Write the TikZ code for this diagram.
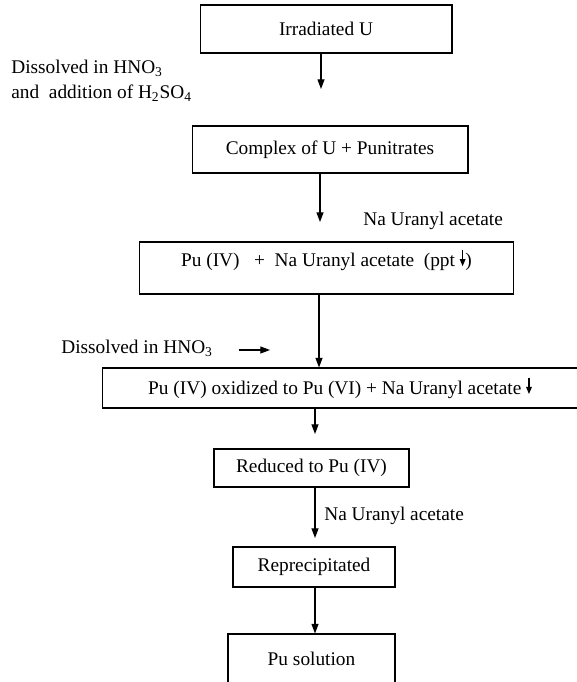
\documentclass[tikz,border=0pt]{standalone}
\usepackage{fontspec}
\setmainfont{Liberation Serif}
\usetikzlibrary{arrows.meta}
\tikzset{
  stage/.style={draw=black, line width=0.6pt, inner sep=0pt, font=\fontsize{11}{14}\selectfont},
  flow/.style={draw=black, line width=0.6pt, -{Triangle[length=5.5pt,width=4pt]}},
  note/.style={anchor=west, inner sep=0pt, align=left, font=\fontsize{11}{14.2}\selectfont}
}
% small precipitate arrow set inside the text
\newcommand{\pptdown}{\tikz[baseline=0pt,x=1pt,y=1pt]\draw[line width=0.6pt,-{Triangle[length=4pt,width=3.2pt]}] (0,9.5) -- (0,0.3);}

\begin{document}
\begin{tikzpicture}[x=0.02cm, y=-0.02cm]
  \useasboundingbox (0,0) rectangle (576,682);
  % stages
  \node[stage, minimum width=5.04cm, minimum height=0.96cm] (irr) at (326,29) {Irradiated U};
  \node[stage, minimum width=5.52cm, minimum height=0.94cm] (cplx) at (330,149.5) {Complex of U + Punitrates};
  \node[stage, minimum width=7.5cm, minimum height=1.04cm, text height=8pt, text depth=9.5pt] (ppt) at (326.5,268)
    {Pu (IV)\ \ \ +\ \ Na Uranyl acetate\ \ (ppt \pptdown)};
  \node[stage, minimum width=9.52cm, minimum height=0.8cm] (oxid) at (340,388)
    {Pu (IV) oxidized to Pu (VI) + Na Uranyl acetate \pptdown};
  \node[stage, minimum width=3.9cm, minimum height=0.76cm] (red) at (311.5,468) {Reduced to Pu (IV)};
  \node[stage, minimum width=3.24cm, minimum height=0.8cm] (reppt) at (314,567) {Reprecipitated};
  \node[stage, minimum width=3.34cm, minimum height=1.0cm] (sol) at (311.5,659) {Pu solution};

  % reagents
  \node[note] (dis1) at (11,80.5) {Dissolved in HNO\textsubscript{3}\\and\ \ addition of H\textsubscript{2}SO\textsubscript{4}};
  \node[note] (na1) at (363,221) {Na Uranyl acetate};
  \node[note] (dis2) at (61,348) {Dissolved in HNO\textsubscript{3}};
  \node[note] (na2) at (324,516) {Na Uranyl acetate};

  % arrow columns and loose ends
  \coordinate (e1) at (321,89);
  \coordinate (e2) at (320,222);
  \coordinate (c3) at (319,0);
  \coordinate (e4) at (315,434);
  \coordinate (e5) at (315,538);
  \coordinate (c6) at (315,0);
  \coordinate (h1) at (239,350);
  \coordinate (h2) at (270,350);

  \draw[flow] (e1 |- irr.south) -- (e1);
  \draw[flow] (e2 |- cplx.south) -- (e2);
  \draw[flow] (c3 |- ppt.south) -- (c3 |- oxid.north);
  \draw[flow] (h1) -- (h2);
  \draw[flow] (e4 |- oxid.south) -- (e4);
  \draw[flow] (e5 |- red.south) -- (e5);
  \draw[flow] (c6 |- reppt.south) -- (c6 |- sol.north);
\end{tikzpicture}
\end{document}
